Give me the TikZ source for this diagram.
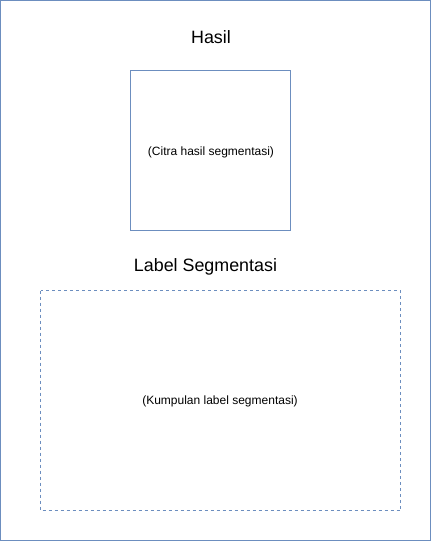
\documentclass[tikz,border=0pt]{standalone}
\usepackage{fontspec}
\setmainfont{Liberation Sans}
\definecolor{edge}{HTML}{6C8EBF}
\begin{document}
\begin{tikzpicture}[x=0.75pt,y=-0.75pt,
  frame/.style={draw=edge,line width=0.75pt},
  dashframe/.style={draw=edge,line width=0.75pt,dash pattern=on 2.25pt off 2.25pt},
  title/.style={font=\fontsize{13.4}{15}\selectfont,text=black},
  small/.style={font=\fontsize{9}{11}\selectfont,text=black}]
\useasboundingbox (0,0) rectangle (431,541);
\draw[frame] (0.5,0.5) rectangle (430.5,540.5);
\node[title] (hasil) at (211,37) {Hasil};
\draw[frame] (130.5,70.5) rectangle (290.5,230.5);
\node[small] (citra) at (211,152.5) {(Citra hasil segmentasi)};
\node[title] (label) at (205.5,267) {Label Segmentasi};
\draw[dashframe] (40.5,290.5) rectangle (400.5,510.5);
\node[small] (kumpulan) at (220,401.5) {(Kumpulan label segmentasi)};
\end{tikzpicture}
\end{document}
